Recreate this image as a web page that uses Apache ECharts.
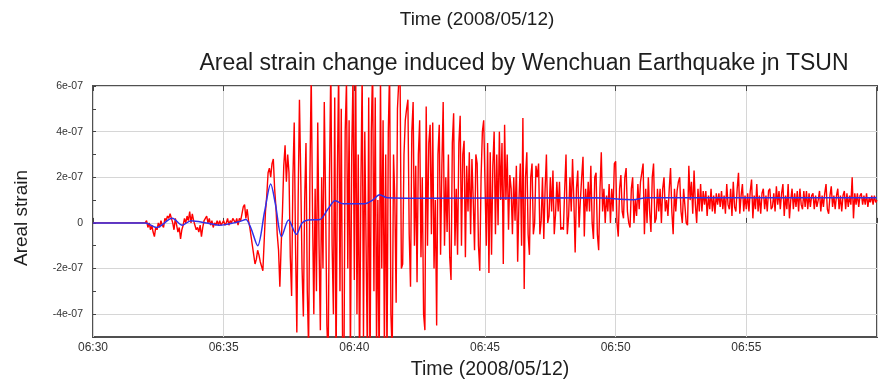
<!DOCTYPE html>
<html><head><meta charset="utf-8">
<script src="https://cdn.jsdelivr.net/npm/echarts@6/dist/echarts.min.js"></script>
<style>html,body{margin:0;padding:0;background:#fff}#c{width:880px;height:380px}</style>
</head><body><div id="c"></div>
<script>
// x values: seconds after 06:30:00 ; y values: areal strain in units of 1e-08
const xTickValues = [0, 300, 600, 900, 1200, 1500];
const xTickLabels = ['06:30', '06:35', '06:40', '06:45', '06:50', '06:55'];
const yTickValues = [-40, -20, 0, 20, 40, 60];
const yTickLabels = ['-4e-07', '-2e-07', '0', '2e-07', '4e-07', '6e-07'];

const redStep = 3; // seconds between red samples, starting 06:30:00
const red = [
  0,0,0,0,0,0,0,0,0,0,0,0,0,0,0,0,0,0,0,0,
  0,0,0,0,0,0,0,0,0,0,0,0,0,0,0,0,0,0,0,0,
  0,1,-2,0,-3,-1,-4,-6,-2,-3,0,-2,1,-1,-2,2,1,3,2,4,
  4,0,-3,2,-1,-4,-2,-7,-3,-1,2,0,3,1,5,0,4,1,-1,-3,
  -2,-4,-1,-6,-2,1,2,3,0,2,-1,1,-2,0,-1,1,-1,1,-1,0,
  1,-1,0,2,-1,1,0,2,1,0,2,-1,2,1,4,7,8,2,6,1,
  -2,-6,-10,-14,-18,-16,-12,-14,-17,-19,-21,-8,5,12,22,24,20,26,28,15,
  7,-5,-12,-28,-10,5,25,34,18,30,22,-15,-32,20,44,-10,-48,10,54,20,
  -20,-41,10,35,-30,-55,20,65,5,-40,15,-30,44,-10,-47,20,-20,53,10,-45,
  -60,20,70,-10,-40,55,-65,20,68,-30,50,-55,-70,40,62,-20,45,-60,30,65,
  -25,72,-40,30,-65,15,66,-50,40,-10,-60,55,-70,40,70,-30,55,-55,10,-68,
  65,-20,45,-55,30,-62,40,68,-40,-58,30,10,-35,50,62,66,-20,-18,30,45,
  50,54,-5,-28,40,53,-10,25,-26,30,45,-15,20,-40,-47,51,-10,35,43,-5,
  44,-20,10,-45,30,43,-14,25,53,-10,20,-4,30,-15,-25,35,48,-10,15,-14,
  35,47,-10,30,36,-15,25,5,31,-5,28,10,-12,30,26,-10,-21,20,40,45,
  45,-10,35,-22,31,-14,25,40,-5,30,-1,40,10,35,-18,43,10,30,-3,21,
  15,-5,20,1,25,-17,10,26,-10,46,-29,20,31,-5,-14,20,26,-5,0,25,
  20,26,-5,1,20,-7,15,30,0,3,20,5,23,-5,4,18,5,18,-3,-2,
  -3,15,30,-5,3,20,5,28,10,-13,15,23,-2,10,20,29,-6,15,5,18,
  5,25,0,-7,20,22,-5,-12,15,31,5,15,0,12,5,17,0,15,5,26,
  27,0,-6,15,21,5,2,20,24,5,0,-2,15,20,0,10,3,17,6,18,
  22,26,-5,15,0,20,5,-4,20,26,0,2,15,5,15,0,15,20,5,10,
  3,15,24,5,-5,15,5,14,18,20,5,0,15,15,0,-1,25,10,18,4,
  23,8,0,15,5,17,5,14,8,14,3,12,6,15,5,12,4,13,8,13,
  7,14,6,12,4,17,8,6,15,3,18,7,5,15,22,4,12,17,5,12,
  6,13,5,14,19,2,12,6,17,5,12,4,13,15,6,12,5,14,15,6,
  7,13,5,16,8,14,6,13,17,3,12,6,17,2,10,15,6,13,7,14,
  5,15,8,6,14,7,14,6,13,7,12,13,6,12,7,10,14,5,12,7,
  13,17,6,4,12,16,7,12,6,12,15,6,12,5,12,14,6,13,7,12,
  8,20,2,13,8,13,7,12,13,8,12,8,13,7,11,9,12,8,12,9,
  10
];

const blueTimes = ['06:30:00','06:32:00','06:32:26','06:33:02','06:33:25','06:33:45','06:34:20','06:34:49',
  '06:35:35','06:35:51','06:36:02','06:36:18','06:36:34','06:36:48','06:36:59','06:37:13','06:37:29',
  '06:37:47','06:38:00','06:38:14','06:38:41','06:38:59','06:39:16','06:39:34','06:40:24','06:40:42',
  '06:40:58','06:41:16','06:42:24','06:49:14','06:50:40','06:51:10','07:00:00'];
const blue = [0,0,-2,2,-1,1,0,-1,
  0.5,1.5,-2,-10,5,17,8,-6,1.3,
  -5,0,1.3,1.5,6,9.7,8.4,8.4,10,
  12.3,11,10.8,11,10.2,11,11];

function secs(hms) {
  const p = hms.split(':').map(Number);
  return (p[0] * 3600 + p[1] * 60 + p[2]) - (6 * 3600 + 30 * 60);
}
const redData = red.map((v, i) => [i * redStep, v]);
const blueData = blue.map((v, i) => [secs(blueTimes[i]), v]);

const FONT = 'Liberation Sans, Arial, sans-serif';
const txt = (s, x, y, size, rot) => ({
  type: 'text', x: x, y: y, rotation: rot || 0,
  style: {text: s, fontSize: size, fontFamily: FONT, fill: '#1e1e1e', align: 'center', verticalAlign: 'middle', textAlign: 'center', textVerticalAlign: 'middle'}
});
const chart = echarts.init(document.getElementById('c'), null, {renderer: 'canvas'});
chart.setOption({
  backgroundColor: '#fff',
  animation: false,
  grid: {left: 93, top: 86, width: 790, height: 251, show: true, borderColor: '#505050', borderWidth: 2, backgroundColor: 'transparent'},
  xAxis: [{
    type: 'value', min: 0, max: 1800, interval: 300,
    axisLine: {show: false},
    axisTick: {show: true, inside: true, length: 5, lineStyle: {color: '#444'}},
    axisLabel: {
      color: '#333', fontSize: 12, fontFamily: FONT, margin: 5,
      formatter: v => { const k = xTickValues.indexOf(v); return k >= 0 ? xTickLabels[k] : ''; }
    },
    splitLine: {show: true, lineStyle: {color: '#d6d6d6', width: 1}}
  }, {
    type: 'value', position: 'top', min: 0, max: 1800, interval: 300,
    axisLine: {show: false},
    axisTick: {show: true, inside: true, length: 5, lineStyle: {color: '#444'}},
    axisLabel: {show: false},
    splitLine: {show: false}
  }],
  yAxis: {
    type: 'value', min: -50, max: 60, interval: 10,
    axisLine: {show: false},
    axisTick: {show: true, inside: true, length: 3, lineStyle: {color: '#444'}},
    axisLabel: {
      color: '#333', fontSize: 10.5, fontFamily: FONT, margin: 10,
      formatter: v => { const k = yTickValues.indexOf(Math.round(v)); return k >= 0 ? yTickLabels[k] : ''; }
    },
    splitLine: {show: true, lineStyle: {color: ['transparent', '#d6d6d6'], width: 1}}
  },
  series: [{
    type: 'line', data: redData, showSymbol: false, symbol: 'none', clip: true,
    lineStyle: {color: '#ff0000', width: 1.4}, z: 2
  }, {
    type: 'line', data: blueData, showSymbol: false, symbol: 'none', clip: true, smooth: 0.3,
    lineStyle: {color: '#3030e8', width: 1.5}, z: 3
  }],
  graphic: [
    txt('Time (2008/05/12)', 477, 20, 19),
    txt('Areal strain change induced by Wenchuan Earthquake jn TSUN', 524, 64, 23),
    txt('Time (2008/05/12)', 490, 370, 19.5),
    txt('Areal strain', 22, 218, 19, Math.PI / 2)
  ]
});
</script>
</body></html>
